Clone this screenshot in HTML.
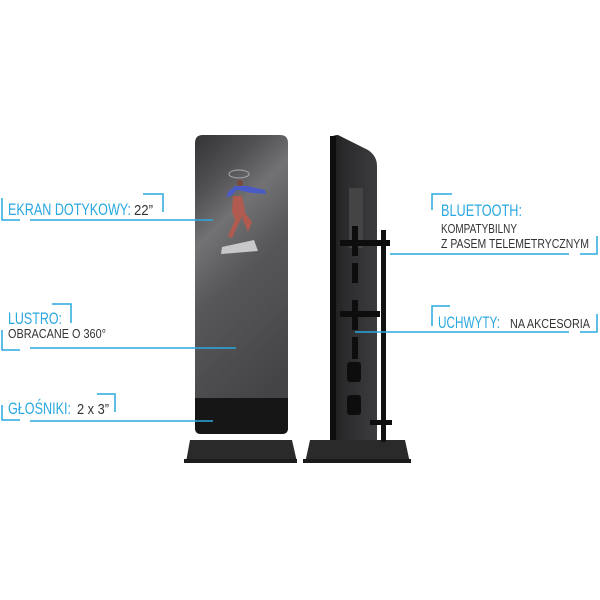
<!DOCTYPE html>
<html><head><meta charset="utf-8"><style>
html,body{margin:0;padding:0;background:#fff;width:600px;height:600px;overflow:hidden}
svg{display:block}
text{font-family:"Liberation Sans Narrow","Liberation Sans",sans-serif}
</style></head><body>
<svg width="600" height="600" viewBox="0 0 600 600" xmlns="http://www.w3.org/2000/svg">
<defs>
<linearGradient id="mir" x1="0" y1="0" x2="0.3" y2="1">
<stop offset="0" stop-color="#333335"/>
<stop offset="0.2" stop-color="#525254"/>
<stop offset="0.35" stop-color="#727274"/>
<stop offset="0.55" stop-color="#58585a"/>
<stop offset="1" stop-color="#444446"/>
</linearGradient>
<linearGradient id="side" x1="0" y1="0" x2="1" y2="0">
<stop offset="0" stop-color="#1a1a1a"/>
<stop offset="0.3" stop-color="#2b2b2d"/>
<stop offset="1" stop-color="#3c3c3e"/>
</linearGradient>
</defs>
<!-- front stand -->
<path d="M186 462 L190 440 L292 440 L297 462 Z" fill="#2a2a2a"/>
<rect x="184" y="459" width="113" height="4" fill="#1c1c1c"/>
<path d="M195 143 Q195 135 203 135 L280 135 Q288 135 288 143 L288 428 Q288 434 282 434 L201 434 Q195 434 195 428 Z" fill="url(#mir)"/>
<path d="M195 398 L288 398 L288 428 Q288 434 282 434 L201 434 Q195 434 195 428 Z" fill="#161616"/>
<!-- screen figure -->
<polygon points="222,247 254,240 258,251 221,254" fill="#c8c8cc"/>
<ellipse cx="239" cy="174" rx="10" ry="4" fill="none" stroke="#aaa" stroke-width="1"/>
<circle cx="240" cy="183" r="3" fill="#7a4a3a"/>
<path d="M235 186 L228 192 L226 197 L231 196 L237 190 L252 193 L266 194 L265 190 L247 186 Z" fill="#4a5bc6"/>
<path d="M233 196 L242 196 L245 210 L238 225 L232 238 L228 236 L235 220 L232 212 Z" fill="#b05a50"/>
<path d="M240 206 L252 222 L248 232 L243 220 Z" fill="#b05a50"/>
<!-- side stand -->
<path d="M305 463 L310 440 L405 440 L410 463 Z" fill="#2a2a2a"/>
<rect x="303" y="459" width="108" height="4" fill="#1a1a1a"/>
<path d="M330 140 Q331 135 338 135 L368 150 Q377 156 377 166 L377 440 L330 440 Z" fill="url(#side)"/>
<rect x="330" y="136" width="6" height="304" fill="#0e0e0e"/>
<rect x="349" y="188" width="14" height="60" fill="#444"/>
<rect x="381" y="230" width="5" height="212" fill="#111"/>
<g fill="#0d0d0d">
<rect x="340" y="240" width="50" height="6"/><rect x="352" y="226" width="6" height="30"/>
<rect x="352" y="263" width="6" height="20"/>
<rect x="340" y="311" width="40" height="6"/><rect x="352" y="300" width="6" height="30"/>
<rect x="352" y="337" width="6" height="22"/>
<rect x="347" y="362" width="14" height="20" rx="3"/>
<rect x="347" y="395" width="14" height="20" rx="3"/>
<rect x="370" y="420" width="22" height="5"/>
</g>
<!-- lines -->
<g stroke="#2aa8e0" stroke-width="1.5" fill="none">
<path d="M2 198 V220 H20 M30 220 H213"/>
<path d="M143 194 H163 V212"/>
<path d="M2 330 V350 H20 M30 348 H236"/>
<path d="M52 304 H71 V323"/>
<path d="M2 405 V420 H20 M30 421 H213"/>
<path d="M97 394 H115 V412"/>
<path d="M432 210 V194 H452"/>
<path d="M390 254 H569 M580 254 H597 V236"/>
<path d="M432 326 V306 H450"/>
<path d="M355 332 H569 M580 332 H597 V314"/>
</g>
<!-- labels -->
<g font-size="17" fill="#2aa8e0">
<text x="8" y="215" textLength="123" lengthAdjust="spacingAndGlyphs">EKRAN DOTYKOWY:</text>
<text x="8" y="324" textLength="54" lengthAdjust="spacingAndGlyphs">LUSTRO:</text>
<text x="8" y="414" textLength="63" lengthAdjust="spacingAndGlyphs">GŁOŚNIKI:</text>
<text x="441" y="216" textLength="81" lengthAdjust="spacingAndGlyphs">BLUETOOTH:</text>
<text x="438" y="328" textLength="62" lengthAdjust="spacingAndGlyphs">UCHWYTY:</text>
</g>
<g fill="#333">
<text x="134" y="215" font-size="15" textLength="19" lengthAdjust="spacingAndGlyphs">22”</text>
<text x="8" y="338" font-size="13" textLength="98" lengthAdjust="spacingAndGlyphs">OBRACANE O 360°</text>
<text x="77" y="414" font-size="15" textLength="32" lengthAdjust="spacingAndGlyphs">2 x 3”</text>
<text x="441" y="233" font-size="13" textLength="76" lengthAdjust="spacingAndGlyphs">KOMPATYBILNY</text>
<text x="441" y="248" font-size="13" textLength="148" lengthAdjust="spacingAndGlyphs">Z PASEM TELEMETRYCZNYM</text>
<text x="510" y="328" font-size="13" textLength="80" lengthAdjust="spacingAndGlyphs">NA AKCESORIA</text>
</g>
</svg>
</body></html>
